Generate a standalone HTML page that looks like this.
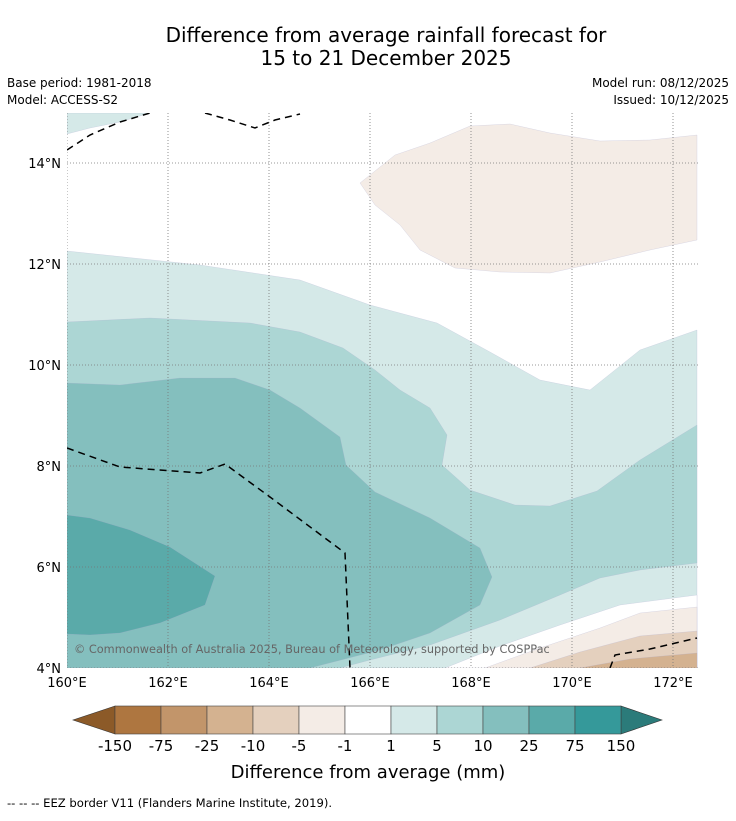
<!DOCTYPE html>
<html><head><meta charset="utf-8"><style>
body{margin:0;background:#fff;font-family:"Liberation Sans","DejaVu Sans",sans-serif;}
svg text{font-family:"DejaVu Sans","Liberation Sans",sans-serif;}
</style></head><body>
<svg id="chart" width="736" height="816" viewBox="0 0 736 816" xmlns="http://www.w3.org/2000/svg">
<rect width="736" height="816" fill="#fff"/>
<text x="386" y="42" font-size="20" text-anchor="middle">Difference from average rainfall forecast for</text>
<text x="386" y="65" font-size="20" text-anchor="middle">15 to 21 December 2025</text>
<text x="7" y="87" font-size="12">Base period: 1981-2018</text>
<text x="7" y="104" font-size="12">Model: ACCESS-S2</text>
<text x="729" y="87" font-size="12" text-anchor="end">Model run: 08/12/2025</text>
<text x="729" y="104" font-size="12" text-anchor="end">Issued: 10/12/2025</text>
<defs><clipPath id="mapclip"><rect x="67" y="113" width="631" height="555"/></clipPath></defs>
<g id="map" clip-path="url(#mapclip)"></g>
<g id="axes"></g>
<g id="cbar"></g>
<text x="368" y="778" font-size="18" text-anchor="middle">Difference from average (mm)</text>
<text x="7" y="807" font-size="11.6">--  --  -- EEZ border V11 (Flanders Marine Institute, 2019).</text>
</svg>
<script>
const levels=["-150","-75","-25","-10","-5","-1","1","5","10","25","75","150"];
const colors=["#ae7640","#c2956a","#d4b290","#e4d0be","#f4ece6","#ffffff","#d5e9e8","#acd6d4","#84bfbe","#5aaaa9","#35999a"];
const extendColors=["#8c5a28","#2b7b7a"];
const lonTicks=[160,162,164,166,168,170,172];
const latTicks=[4,6,8,10,12,14];
const NS="http://www.w3.org/2000/svg";
const X=lon=>67+(lon-160)*50.5, Y=lat=>668-(lat-4)*50.5;
function mk(tag,attrs,parent){const e=document.createElementNS(NS,tag);for(const k in attrs)e.setAttribute(k,attrs[k]);parent.appendChild(e);return e;}
const map=document.getElementById('map');
const shapes=[
 {n:'contour-1-to-5',c:'#d5e9e8',p:[[67,251],[200,265],[300,280],[370,305],[437,323],[490,352],[540,380],[590,390],[640,350],[697,330],[697,668],[67,668]]},
 {n:'contour-5-to-10',c:'#acd6d4',p:[[67,322],[150,318],[250,323],[300,332],[343,348],[375,370],[400,390],[430,408],[447,435],[442,465],[470,490],[515,505],[550,506],[597,491],[640,460],[697,425],[697,563],[640,570],[600,578],[560,595],[500,620],[430,645],[370,660],[340,668],[67,668]]},
 {n:'contour-10-to-25',c:'#84bfbe',p:[[67,383],[120,385],[180,378],[235,378],[270,390],[300,408],[340,437],[346,465],[375,492],[430,518],[480,548],[492,577],[480,605],[430,633],[380,650],[310,668],[67,668]]},
 {n:'contour-25-to-75',c:'#5aaaa9',p:[[67,515],[90,518],[130,530],[170,547],[215,576],[205,605],[160,623],[120,633],[90,635],[67,634]]},
 {n:'contour-minus1-to-1',c:'#ffffff',p:[[445,668],[500,646],[560,625],[620,605],[697,595],[697,668]]},
 {n:'contour-minus5-to-minus1',c:'#f4ece6',p:[[485,668],[540,648],[600,628],[640,613],[697,607],[697,668]]},
 {n:'contour-minus10-to-minus5',c:'#e4d0be',p:[[530,668],[580,652],[640,636],[697,631],[697,668]]},
 {n:'contour-minus25-to-minus10',c:'#d4b290',p:[[580,668],[630,659],[697,653],[697,668]]},
 {n:'contour-north-dry',c:'#f4ece6',p:[[360,183],[395,155],[430,143],[470,126],[510,124],[550,133],[600,141],[650,140],[697,135],[697,240],[650,250],[600,262],[550,273],[500,272],[455,268],[420,250],[400,225],[375,205]]},
 {n:'contour-north-wet',c:'#d5e9e8',p:[[67,113],[150,113],[120,122],[90,128],[67,134]]}
];
shapes.forEach(s=>{const e=mk('polygon',{points:s.p.map(q=>q.join(',')).join(' '),fill:s.c,stroke:'#aac',"stroke-width":0.2},map);

});
lonTicks.forEach(l=>{const e=mk('line',{x1:X(l),x2:X(l),y1:113,y2:668,stroke:'#777',"stroke-width":0.8,"stroke-dasharray":"1,2"},map);

});
latTicks.forEach(l=>{const e=mk('line',{x1:67,x2:698,y1:Y(l),y2:Y(l),stroke:'#777',"stroke-width":0.8,"stroke-dasharray":"1,2"},map);

});
const eez=[[[67,150],[90,135],[120,122],[150,113]],[[205,113],[230,120],[255,128],[275,120],[300,114]],[[67,448],[120,467],[200,473],[225,464],[270,497],[345,553],[350,668]],[[610,668],[615,655],[650,649],[697,638]]];
eez.forEach(l=>{const e=mk('polyline',{points:l.map(q=>q.join(',')).join(' '),fill:'none',stroke:'#000',"stroke-width":1.5,"stroke-dasharray":"7,5"},map);

});
const cr=mk('text',{x:74,y:653,"font-size":11.3,fill:'#666'},map);cr.textContent='© Commonwealth of Australia 2025, Bureau of Meteorology, supported by COSPPac';


const ax=document.getElementById('axes');
lonTicks.forEach(l=>{const t=mk('text',{x:X(l),y:687,"font-size":13,"text-anchor":"middle"},ax);t.textContent=l+'°E';

});
latTicks.forEach(l=>{const t=mk('text',{x:61,y:Y(l)+5,"font-size":13,"text-anchor":"end"},ax);t.textContent=l+'°N';

});
const cb=document.getElementById('cbar');
const cx0=115,cw=46,cy=706,ch=28;
let e=mk('polygon',{points:`${cx0},${cy} ${cx0},${cy+ch} 73,${cy+ch/2}`,fill:extendColors[0],stroke:'#333',"stroke-width":0.6},cb);


const cx1=cx0+cw*colors.length;
e=mk('polygon',{points:`${cx1},${cy} ${cx1},${cy+ch} 662,${cy+ch/2}`,fill:extendColors[1],stroke:'#333',"stroke-width":0.6},cb);


colors.forEach((c,i)=>{const r=mk('rect',{x:cx0+i*cw,y:cy,width:cw,height:ch,fill:c,stroke:'#444',"stroke-width":0.6},cb);

});
levels.forEach((l,i)=>{const t=mk('text',{x:cx0+i*cw,y:751,"font-size":15,"text-anchor":"middle"},cb);t.textContent=l;

});
</script>
</body></html>
